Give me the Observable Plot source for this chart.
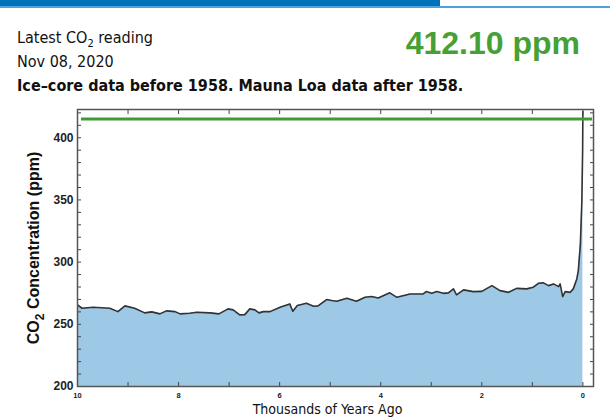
<!DOCTYPE html>
<html>
<head>
<meta charset="utf-8">
<script src="https://cdn.jsdelivr.net/npm/d3@7"></script>
<script src="https://cdn.jsdelivr.net/npm/@observablehq/plot@0.6"></script>
<style>
  html, body { margin: 0; padding: 0; background: #fff; }
  #wrap { position: relative; width: 610px; height: 418px; overflow: hidden; }
  #bar { position: absolute; left: 0; top: 0; width: 440px; height: 6px; background: #0072bc; }
  #line { position: absolute; left: 0; top: 6px; width: 610px; height: 2px; background: #4ca3db; }
  .hd { position: absolute; font-family: "DejaVu Sans Condensed", "Liberation Sans Narrow", sans-serif; color: #111; white-space: nowrap; }
  #l1 { left: 17px; top: 28px; font-size: 16px; }
  #l1 sub { font-size: 11px; vertical-align: -4px; line-height: 0; }
  #l2 { left: 17px; top: 52px; font-size: 16px; }
  #l3 { left: 17px; top: 76px; font-size: 16px; font-weight: bold; }
  #val { right: 30px; top: 25px; font-family: "Liberation Sans", Arial, sans-serif; font-size: 32px; font-weight: bold; color: #45a035; }
  #chart { position: absolute; left: 0; top: 95px; }
</style>
</head>
<body>
<div id="wrap">
  <div id="bar"></div>
  <div id="line"></div>
  <div class="hd" id="l1">Latest CO<sub>2</sub> reading</div>
  <div class="hd" id="l2">Nov 08, 2020</div>
  <div class="hd" id="l3">Ice–core data before 1958. Mauna Loa data after 1958.</div>
  <div class="hd" id="val">412.10 ppm</div>
  <div id="chart"></div>
</div>
<script>
// Thousands of years ago
const kyrAgo = [10.00, 9.91, 9.69, 9.36, 9.20, 9.06, 8.87, 8.67, 8.53, 8.37, 8.24, 8.07, 7.97, 7.78, 7.64, 7.38, 7.20, 7.02, 6.92, 6.79, 6.69, 6.59, 6.49, 6.41, 6.32, 6.19, 5.99, 5.80, 5.74, 5.65, 5.47, 5.33, 5.24, 5.07, 4.97, 4.87, 4.67, 4.48, 4.31, 4.18, 4.05, 3.82, 3.68, 3.42, 3.16, 3.10, 2.99, 2.89, 2.76, 2.66, 2.56, 2.50, 2.36, 2.17, 2.00, 1.80, 1.64, 1.47, 1.31, 1.11, 0.98, 0.88, 0.78, 0.68, 0.58, 0.48, 0.45, 0.40, 0.35, 0.25, 0.19, 0.12, 0.09, 0.05, 0.02, 0.005, 0.0];
// CO2 concentration (ppm)
const co2ppm = [265.6, 262.9, 263.7, 262.9, 260.2, 264.8, 262.9, 259.2, 260.0, 258.4, 260.8, 260.2, 258.4, 258.9, 259.7, 259.2, 258.4, 262.4, 261.6, 257.6, 257.8, 262.4, 261.6, 259.2, 260.2, 260.2, 263.7, 266.4, 260.5, 265.1, 266.9, 264.5, 264.8, 269.9, 269.1, 268.5, 270.9, 268.5, 271.7, 272.3, 271.2, 275.3, 271.7, 274.4, 274.4, 276.3, 274.9, 276.3, 274.9, 275.3, 278.5, 273.7, 277.7, 276.3, 276.5, 281.1, 277.1, 275.7, 278.9, 278.5, 279.8, 283.0, 283.3, 281.1, 282.5, 280.3, 282.5, 272.3, 276.3, 275.7, 278.5, 286.5, 293.2, 314.6, 349.4, 390.0, 421.0];
const latestLevel = [415];
const xMajorTicks = [10, 8, 6, 4, 2, 0];
const xMinorTicks = [9, 7, 5, 3, 1];
const yMajorTicks = [200, 250, 300, 350, 400];
const yMinorTicks = [210, 220, 230, 240, 260, 270, 280, 290, 310, 320, 330, 340, 360, 370, 380, 390, 410, 420];
const xTitle = "Thousands of Years Ago";

const data = kyrAgo.map((t, i) => ({t, v: co2ppm[i]}));
const allX = [...xMajorTicks, ...xMinorTicks];
const allY = [...yMajorTicks, ...yMinorTicks];
const axisFont = {fontFamily: "Liberation Sans, Arial, sans-serif", fontWeight: "bold", fill: "#222"};

const chart = Plot.plot({
  width: 610,
  height: 323,
  marginTop: 14,
  marginBottom: 32,
  marginLeft: 77,
  marginRight: 17,
  style: {fontFamily: "Liberation Sans, Arial, sans-serif", background: "transparent", overflow: "visible"},
  x: {domain: [10, -0.21]},
  y: {domain: [200, 422.7]},
  marks: [
    Plot.areaY(data, {x: "t", y: "v", fill: "#9dc9e7", clip: true}),
    Plot.line(data, {x: "t", y: "v", stroke: "#333", strokeWidth: 1.6, clip: true}),
    Plot.ruleY(latestLevel, {stroke: "#3f9c35", strokeWidth: 3, insetLeft: 4, insetRight: 1}),
    // inward ticks on all four sides
    Plot.axisX(allX, {anchor: "bottom", tickSize: -4, tickFormat: () => "", stroke: "#444", label: null}),
    Plot.axisX(allX, {anchor: "top", tickSize: -4, tickFormat: () => "", stroke: "#444", label: null}),
    Plot.axisY(allY, {anchor: "left", tickSize: -4, tickFormat: () => "", stroke: "#444", label: null}),
    Plot.axisY(allY, {anchor: "right", tickSize: -4, tickFormat: () => "", stroke: "#444", label: null}),
    // labels
    Plot.axisX(xMajorTicks, {anchor: "bottom", tickSize: 0, tickPadding: 6, fontSize: 7.5, ...axisFont, label: null}),
    Plot.axisY(yMajorTicks, {anchor: "left", tickSize: 0, tickPadding: 4, fontSize: 12, ...axisFont, label: null}),
    Plot.text([xTitle], {frameAnchor: "bottom", dy: 27, dx: -8, fontSize: 14, fill: "#111", fontFamily: "DejaVu Sans Condensed, Liberation Sans Narrow, sans-serif"}),
    Plot.text(["CO2 Concentration (ppm)"], {frameAnchor: "left", textAnchor: "middle", dx: -44, rotate: -90, fontSize: 16, fontWeight: "bold", fill: "#111", className: "ytitle"}),
    Plot.frame({stroke: "#555", strokeWidth: 1.5})
  ]
});
document.getElementById("chart").appendChild(chart);

// subscript in y title
const yt = d3.select(chart).select(".ytitle text");
yt.text(null);
yt.append("tspan").text("CO");
yt.append("tspan").attr("dy", 5).attr("font-size", 12).text("2");
yt.append("tspan").attr("dy", -5).text(" Concentration (ppm)");
</script>
</body>
</html>
